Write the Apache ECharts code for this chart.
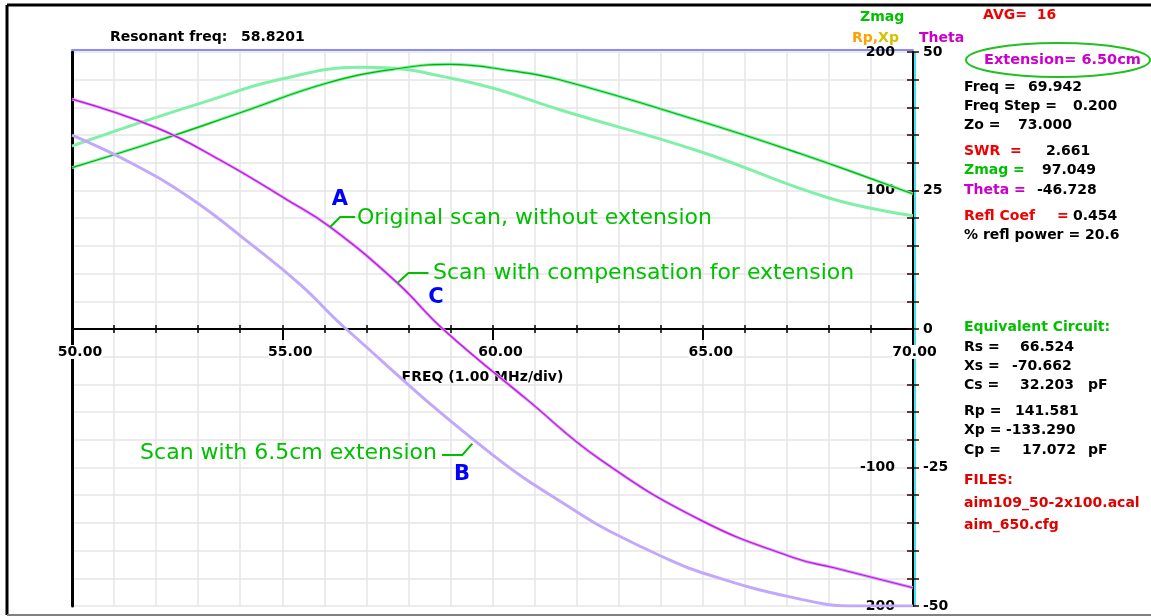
<!DOCTYPE html>
<html><head><meta charset="utf-8">
<script src="https://cdn.jsdelivr.net/npm/echarts@6/dist/echarts.min.js"></script>
<style>html,body{margin:0;padding:0;background:#fff}#c{width:1151px;height:616px}</style>
</head><body><div id="c"></div>
<script>
// ---- data ----
const origZmagFreq = [50.00, 52.10, 54.07, 56.07, 57.64, 59.00, 60.43, 61.62, 64.95, 67.38, 69.05, 70.00];
const origZmag     = [116.5, 136.5, 156.9, 177.6, 187.5, 191.1, 186.5, 179.8, 150.0, 126.0, 108.0, 97.5];
const extZmagFreq  = [50.00, 51.69, 53.29, 54.88, 56.86, 57.64, 58.83, 60.02, 61.62, 64.95, 68.00, 70.00];
const extZmag      = [132.1, 149.7, 165.3, 179.8, 188.9, 188.2, 182.2, 173.8, 158.1, 128.0, 94.6, 81.8];
const origThetaFreq = [50.00, 52.02, 53.52, 55.12, 56.14, 57.74, 58.82, 60.83, 62.57, 64.95, 67.17, 68.12, 70.00];
const origTheta     = [41.5, 36.3, 30.5, 23.3, 18.4, 8.3, 0.0, -12.8, -23.6, -34.5, -41.3, -43.1, -46.7];
const extThetaFreq  = [50.00, 51.50, 52.88, 54.24, 55.43, 56.52, 59.95, 62.17, 62.81, 64.07, 64.95, 67.10, 68.69, 70.00];
const extTheta      = [35.0, 29.6, 23.3, 15.4, 8.0, 0.0, -22.4, -33.8, -36.6, -41.2, -43.9, -48.4, -50.0, -50.0];
const xTickLabels = {50:'50.00', 55:'55.00', 60:'60.00', 65:'65.00', 70:'70.00'};
const thetaTickLabels = {50:'50', 25:'25', 0:'0', '-25':'-25', '-50':'-50'};
const zTickLabels = {200:'200', 100:'100', '-100':'-100', '-200':'-200'};

const zip = (a, b) => a.map((v, i) => [v, b[i]]);
const FONT = '"DejaVu Sans"';
const LG = '#80f0a8', DG = '#00b400', LAV = '#c2a8fa', MAG = '#e000e0';

const chart = echarts.init(document.getElementById('c'));
const lineBase = {type: 'line', showSymbol: false, symbol: 'none', smooth: 0.45, xAxisIndex: 0, animation: false};
const off = {axisTick: {show: false}, axisLabel: {show: false}, splitLine: {show: false}};
const option = {
  animation: false,
  backgroundColor: '#fff',
  textStyle: {fontFamily: FONT},
  grid: [
    {left: 72, right: 238, top: 52, bottom: 10, outerBoundsMode: 'none', containLabel: false},
    // helper grid whose bottom edge is the zero line: carries the frequency labels
    {left: 72, right: 238, top: 52, bottom: 287, outerBoundsMode: 'none', containLabel: false}
  ],
  xAxis: [
    {type: 'value', min: 50, max: 70, interval: 1, position: 'bottom',
     axisLine: {onZero: true, onZeroAxisIndex: 0, lineStyle: {color: '#000', width: 2}},
     axisTick: {length: 4, lineStyle: {color: '#000', width: 1.5}},
     axisLabel: {show: false},
     splitLine: {show: true, lineStyle: {color: '#e6e6e6', width: 1.5}}},
    {type: 'value', min: 50, max: 70, interval: 1, position: 'top',
     axisLine: {onZero: true, onZeroAxisIndex: 0, lineStyle: {color: '#000', width: 2}},
     axisTick: {length: 4, lineStyle: {color: '#000', width: 1.5}},
     axisLabel: {show: false}, splitLine: {show: false}},
    {type: 'value', min: 50, max: 70, interval: 5, position: 'bottom',
     axisLine: {show: false, onZero: true, onZeroAxisIndex: 0},
     axisTick: {length: 11, lineStyle: {color: '#000', width: 2}},
     axisLabel: {show: false}, splitLine: {show: false}},
    Object.assign({type: 'value', min: 50, max: 70, position: 'top', offset: 2,
     axisLine: {onZero: false, lineStyle: {color: '#8a8aff', width: 2}}}, off),
    {type: 'value', gridIndex: 1, min: 50, max: 70, interval: 1, position: 'bottom',
     axisLine: {show: false, onZero: false}, axisTick: {show: false}, splitLine: {show: false},
     axisLabel: {margin: 16, formatter: v => xTickLabels[v] ? (v === 70 ? '{s2| }{n|' + xTickLabels[v] + '}' : '{s| }{n|' + xTickLabels[v] + '}') : '',
       rich: {s: {width: 16, fontSize: 14}, s2: {width: 3, fontSize: 14},
              n: {fontSize: 14, fontWeight: 'bold', fontFamily: FONT, color: '#000', backgroundColor: '#fff'}}},
     name: 'FREQ (1.00 MHz/div)', nameLocation: 'middle', nameGap: 41,
     nameTextStyle: {fontSize: 14, fontWeight: 'bold', fontFamily: FONT, color: '#000', padding: [0, 20, 0, 0]}}
  ],
  yAxis: [
    {type: 'value', min: -50, max: 50, interval: 5, position: 'right',
     axisLine: {show: true, onZero: false, lineStyle: {color: '#000', width: 2}},
     axisTick: {length: 6, lineStyle: {color: '#300000', width: 1.5}},
     axisLabel: {margin: 10, fontSize: 14, fontWeight: 'bold', color: '#000', fontFamily: FONT,
       formatter: v => thetaTickLabels[v] !== undefined ? thetaTickLabels[v] : ''},
     splitLine: {show: true, lineStyle: {color: '#e6e6e6', width: 1.5}}},
    {type: 'value', min: -50, max: 50, interval: 5, position: 'right',
     axisLine: {show: false, onZero: false},
     axisTick: {inside: true, length: 6, lineStyle: {color: '#300000', width: 1.5}},
     axisLabel: {show: false}, splitLine: {show: false}},
    {type: 'value', min: -200, max: 200, interval: 100, position: 'right',
     axisLine: {show: false, onZero: false}, axisTick: {show: false},
     axisLabel: {inside: true, margin: 18, fontSize: 14, fontWeight: 'bold', color: '#000', fontFamily: FONT,
       formatter: v => zTickLabels[v] !== undefined ? zTickLabels[v] : ''},
     splitLine: {show: false}},
    Object.assign({type: 'value', min: -50, max: 50, position: 'left',
     axisLine: {show: true, onZero: false, lineStyle: {color: '#000', width: 3}}}, off),
    Object.assign({type: 'value', min: -50, max: 50, position: 'right', offset: 2,
     axisLine: {show: true, onZero: false, lineStyle: {color: '#00e0e8', width: 1.5}}}, off),
    Object.assign({type: 'value', gridIndex: 1, min: 0, max: 1, axisLine: {show: false}}, off)
  ],
  series: [
    Object.assign({}, lineBase, {name: 'Zmag ext', yAxisIndex: 2, data: zip(extZmagFreq, extZmag), lineStyle: {color: LG, width: 3}}),
    Object.assign({}, lineBase, {name: 'Zmag orig', yAxisIndex: 2, data: zip(origZmagFreq, origZmag), lineStyle: {color: LG, width: 3}}),
    Object.assign({}, lineBase, {name: 'Zmag orig core', yAxisIndex: 2, data: zip(origZmagFreq, origZmag), lineStyle: {color: DG, width: 1.2}}),
    Object.assign({}, lineBase, {name: 'Theta ext', yAxisIndex: 0, data: zip(extThetaFreq, extTheta), lineStyle: {color: LAV, width: 3}}),
    Object.assign({}, lineBase, {name: 'Theta orig', yAxisIndex: 0, data: zip(origThetaFreq, origTheta), lineStyle: {color: LAV, width: 3}}),
    Object.assign({}, lineBase, {name: 'Theta orig core', yAxisIndex: 0, data: zip(origThetaFreq, origTheta), lineStyle: {color: MAG, width: 1.2}})
  ]
};
chart.setOption(option);

// ---- annotations and side panel ----
const px = (f, v) => chart.convertToPixel({xAxisIndex: 0, yAxisIndex: 0}, [f, v]);
const bold = s => 'bold ' + s + 'px ' + FONT;
const txt = (text, x, y, fill, font, align) => ({type: 'text', z: 100, style: {text: text, x: x, y: y, fill: fill, font: font || bold(14),
  textAlign: align || 'left', textVerticalAlign: 'middle', align: align || 'left', verticalAlign: 'middle'}});
const G = '#00c000', R = '#f00000', DR = '#e00000', M = '#cc00cc', K = '#000', B = '#0000ff';

const aA = px(origThetaFreq[4], origTheta[4]);
const aC = px(origThetaFreq[5], origTheta[5]);
const bF = 59.52, bV = extTheta[5] + (extTheta[6] - extTheta[5]) * (bF - extThetaFreq[5]) / (extThetaFreq[6] - extThetaFreq[5]);
const aB = px(bF, bV);
const lead = pts => ({type: 'polyline', z: 100, shape: {points: pts}, style: {stroke: '#00c000', lineWidth: 2, fill: null}});

const graphics = [
  {type: 'line', z: 100, shape: {x1: 7, y1: 5, x2: 1151, y2: 5}, style: {stroke: '#000', lineWidth: 3}},
  {type: 'line', z: 100, shape: {x1: 7, y1: 5, x2: 7, y2: 615}, style: {stroke: '#000', lineWidth: 3}},
  {type: 'line', z: 100, shape: {x1: 7, y1: 615, x2: 1151, y2: 615}, style: {stroke: '#808080', lineWidth: 2}},
  txt('Resonant freq:', 110, 37, K),
  txt('58.8201', 241, 37, K),
  // annotations
  lead([[aA[0], aA[1]], [aA[0] + 10, aA[1] - 10], [aA[0] + 25, aA[1] - 10]]),
  txt('Original scan, without extension', 357, 218, '#00c000', '22px ' + FONT),
  txt('A', 340, 200, B, bold(21), 'center'),
  lead([[aC[0], aC[1]], [aC[0] + 11, aC[1] - 10], [aC[0] + 31, aC[1] - 10]]),
  txt('Scan with compensation for extension', 433, 273, '#00c000', '22px ' + FONT),
  txt('C', 436, 298, B, bold(21), 'center'),
  lead([[aB[0], aB[1] + 6], [aB[0] - 10, 455], [442, 455]]),
  txt('Scan with 6.5cm extension', 437, 453, '#00c000', '22px ' + FONT, 'right'),
  txt('B', 462, 475, B, bold(21), 'center'),
  // header of panel
  txt('Zmag', 860, 17, G),
  txt('AVG=  16', 983, 15, R),
  {type: 'text', z: 100, style: {text: '{o|Rp,}{y|Xp}', x: 852, y: 38, textVerticalAlign: 'middle', verticalAlign: 'middle', font: bold(14),
    rich: {o: {fill: '#ffa000', color: '#ffa000', font: bold(14)}, y: {fill: '#d4c000', color: '#d4c000', font: bold(14)}}}},
  txt('Theta', 919, 38, M),
  {type: 'ellipse', z: 100, shape: {cx: 1058, cy: 60, rx: 92, ry: 17}, style: {stroke: '#20c020', lineWidth: 2, fill: null}},
  txt('Extension= 6.50cm', 984, 60, M, bold(14.5)),
  txt('Freq =', 964, 87, K), txt('69.942', 1028, 87, K),
  txt('Freq Step =', 964, 106, K), txt('0.200', 1073, 106, K),
  txt('Zo =', 964, 125, K), txt('73.000', 1018, 125, K),
  txt('SWR  =', 964, 151, R), txt('2.661', 1046, 151, K),
  txt('Zmag =', 964, 170, G), txt('97.049', 1042, 170, K),
  txt('Theta =', 964, 190, M), txt('-46.728', 1037, 190, K),
  txt('Refl Coef', 964, 216, R), txt('=', 1057, 216, R), txt('0.454', 1073, 216, K),
  txt('% refl power = 20.6', 964, 235, K),
  txt('Equivalent Circuit:', 964, 327, G),
  txt('Rs =', 964, 347, K), txt('66.524', 1020, 347, K),
  txt('Xs =', 964, 366, K), txt('-70.662', 1012, 366, K),
  txt('Cs =', 964, 385, K), txt('32.203', 1020, 385, K), txt('pF', 1088, 385, K),
  txt('Rp =', 964, 411, K), txt('141.581', 1015, 411, K),
  txt('Xp =', 964, 430, K), txt('-133.290', 1006, 430, K),
  txt('Cp =', 964, 450, K), txt('17.072', 1022, 450, K), txt('pF', 1088, 450, K),
  txt('FILES:', 964, 480, DR),
  txt('aim109_50-2x100.acal', 964, 503, DR),
  txt('aim_650.cfg', 964, 525, DR)
];
chart.setOption({graphic: graphics});
</script></body></html>
